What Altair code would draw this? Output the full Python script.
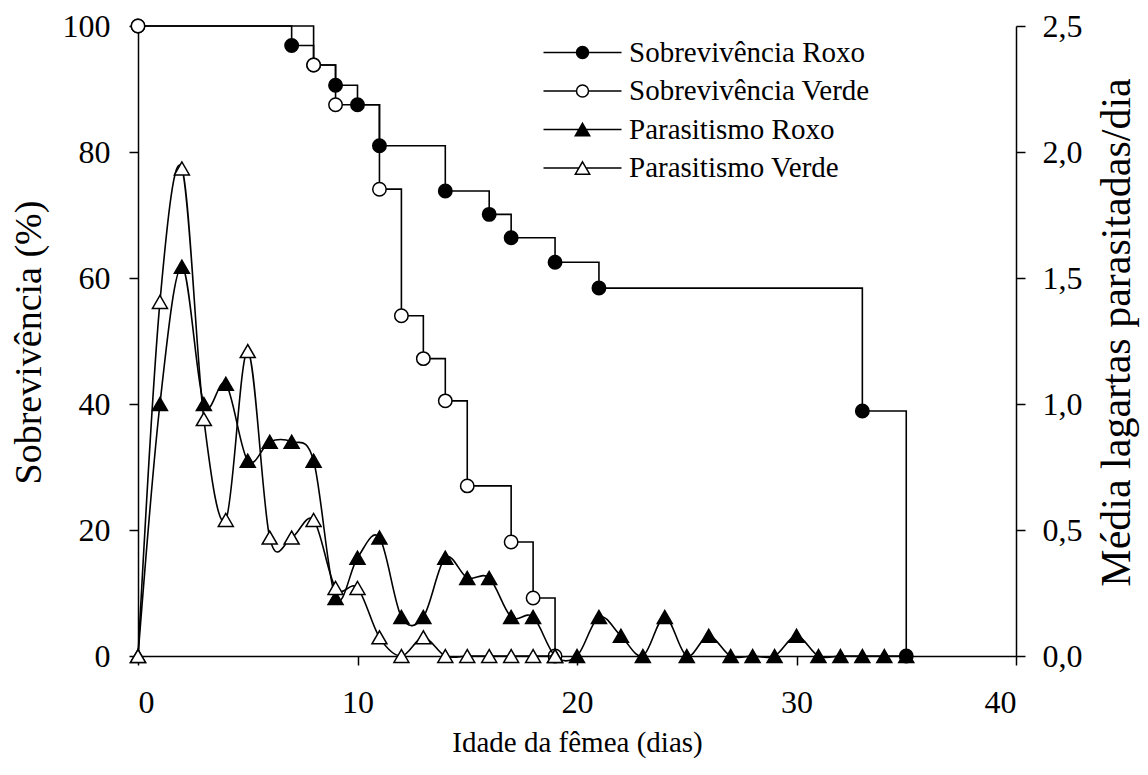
import altair as alt
import pandas as pd

FONT = "Liberation Serif, Times New Roman, Times, serif"

series_names = ["Sobrevivência Roxo", "Sobrevivência Verde", "Parasitismo Roxo", "Parasitismo Verde"]

# Survival (%), left axis
surv_roxo_days = [0, 7, 8, 9, 10, 11, 14, 16, 17, 19, 21, 33, 35]
surv_roxo = [100, 96.9, 93.8, 90.6, 87.5, 81.0, 73.8, 70.1, 66.4, 62.5, 58.4, 38.9, 0]

surv_verde_days = [0, 8, 9, 11, 12, 13, 14, 15, 17, 18, 19]
surv_verde = [100, 93.8, 87.5, 74.1, 54.0, 47.2, 40.5, 27.0, 18.1, 9.2, 0]

# Parasitism (mean larvae parasitised / day), right axis
par_roxo_days = list(range(0, 36))
par_roxo = [0, 1.0, 1.545, 1.0, 1.08, 0.775, 0.85, 0.85, 0.775, 0.23,
            0.39, 0.47, 0.155, 0.155, 0.39, 0.31, 0.31, 0.155, 0.155, 0,
            0, 0.155, 0.08, 0, 0.155, 0, 0.08, 0, 0, 0,
            0.08, 0, 0, 0, 0, 0]

par_verde_days = list(range(0, 20))
par_verde = [0, 1.405, 1.935, 0.94, 0.54, 1.21, 0.47, 0.47, 0.54, 0.27,
             0.27, 0.074, 0, 0.074, 0, 0, 0, 0, 0, 0]

left_ticks = [0, 20, 40, 60, 80, 100]
right_ticks = [0, 0.5, 1.0, 1.5, 2.0, 2.5]
x_ticks = [0, 10, 20, 30, 40]


def frame(days, vals, name):
    return pd.DataFrame({"dia": days, "valor": vals, "serie": name})


surv_df = pd.concat([frame(surv_roxo_days, surv_roxo, series_names[0]),
                     frame(surv_verde_days, surv_verde, series_names[1])], ignore_index=True)
par_df = pd.concat([frame(par_roxo_days, par_roxo, series_names[2]),
                    frame(par_verde_days, par_verde, series_names[3])], ignore_index=True)
legend_df = pd.DataFrame({"dia": [0, 0, 0, 0], "valor": [0, 0, 0, 0], "serie": series_names})

# legend symbols: line + marker
L = 6.5
circle_path = f"M-{L},0H-1M1,0H{L}M1,0A1,1,0,1,1,-1,0A1,1,0,1,1,1,0Z"
tri_path = f"M-{L},0H-0.6M0.6,0H{L}M0,-1.04L1.2,1.04L-1.2,1.04Z"

legend = alt.Legend(
    title=None, orient="none", legendX=430, legendY=12, padding=0,
    labelFont=FONT, labelFontSize=29, labelColor="black", labelOffset=32,
    labelLimit=500,
    symbolSize=144, symbolStrokeWidth=1.5, symbolStrokeColor="black",
    symbolOffset=0, rowPadding=8.5, symbolOpacity=1,
)

shape_scale = alt.Scale(domain=series_names, range=["circle", "circle", "triangle-up", "triangle-up"])
fill_scale = alt.Scale(domain=series_names, range=["black", "white", "black", "white"])
leg_shape_scale = alt.Scale(domain=series_names, range=[circle_path, circle_path, tri_path, tri_path])
leg_fill_scale = alt.Scale(domain=series_names, range=["black", "white", "black", "white"])
leg_stroke_scale = alt.Scale(domain=series_names, range=["black", "black", "black", "black"])

axis_style = dict(labelFont=FONT, titleFont=FONT, labelFontSize=32, labelColor="black",
                  titleColor="black", titleFontWeight="normal", domainColor="black",
                  tickColor="black", tickSize=9, tickWidth=1.5, domainWidth=1.5, grid=False)

x_enc = alt.X("dia:Q", scale=alt.Scale(domain=[0, 40], nice=False, zero=False),
              axis=alt.Axis(values=x_ticks, format="d", title="Idade da fêmea (dias)",
                            labelPadding=22, titleFontSize=29, titleY=95,
                            titleBaseline="alphabetic", **axis_style))

y_left = alt.Y("valor:Q", scale=alt.Scale(domain=[0, 100], nice=False),
               axis=alt.Axis(values=left_ticks, format="d", title="Sobrevivência (%)",
                             orient="left", labelPadding=19, titleFontSize=38,
                             titleAngle=270, titleX=-109, titleY=316,
                             titleBaseline="middle", titleAlign="center", **axis_style))

y_right = alt.Y("valor:Q", scale=alt.Scale(domain=[0, 2.5], nice=False),
                axis=alt.Axis(values=right_ticks, format=".1f",
                              labelExpr="replace(datum.label, '.', ',')",
                              title="Média lagartas parasitadas/dia",
                              orient="right", labelPadding=17, titleFontSize=42,
                              titleAngle=270, titleX=100, titleY=306,
                              titleBaseline="middle", titleAlign="center", **axis_style))

surv_line = alt.Chart(surv_df).mark_line(interpolate="step-after", color="black", strokeWidth=1.6).encode(
    x=x_enc, y=y_left, detail="serie:N")
surv_pts = alt.Chart(surv_df).mark_point(filled=True, size=180, stroke="black", strokeWidth=1.5, opacity=1).encode(
    x=x_enc, y=y_left,
    shape=alt.Shape("serie:N", scale=shape_scale, legend=None),
    fill=alt.Fill("serie:N", scale=fill_scale, legend=None))

par_line = alt.Chart(par_df).mark_line(interpolate="cardinal", color="black", strokeWidth=1.6).encode(
    x=x_enc, y=y_right, detail="serie:N")
par_pts = alt.Chart(par_df).mark_point(filled=True, size=225, stroke="black", strokeWidth=1.5, opacity=1).encode(
    x=x_enc, y=y_right,
    shape=alt.Shape("serie:N", scale=shape_scale, legend=None),
    fill=alt.Fill("serie:N", scale=fill_scale, legend=None))

leg_pts = alt.Chart(legend_df).mark_point(filled=True, size=144, strokeWidth=1.5, opacity=0).encode(
    x=x_enc,
    y=alt.Y("valor:Q", scale=alt.Scale(domain=[0, 100], nice=False), axis=None),
    shape=alt.Shape("serie:N", scale=leg_shape_scale, legend=legend),
    fill=alt.Fill("serie:N", scale=leg_fill_scale, legend=legend),
    stroke=alt.Stroke("serie:N", scale=leg_stroke_scale, legend=legend))

left = alt.layer(surv_line, surv_pts)
right = alt.layer(par_line, par_pts)

chart = alt.layer(left, right, leg_pts).resolve_scale(
    y="independent", shape="independent", fill="independent", stroke="independent"
).properties(
    width=878, height=630,
    autosize=alt.AutoSizeParams(type="none"),
    padding={"left": 130, "top": 18, "right": 124, "bottom": 106},
    background="white",
).configure(font=FONT).configure_view(stroke=None).configure_axis(
    labelFont=FONT, titleFont=FONT, labelFontSize=32, labelColor="black",
    titleColor="black", titleFontWeight="normal", domainColor="black",
    tickColor="black", tickSize=9, tickWidth=1.5, domainWidth=1.5, grid=False,
)

chart.save("out.html", embed_options={"renderer": "svg", "actions": False})
